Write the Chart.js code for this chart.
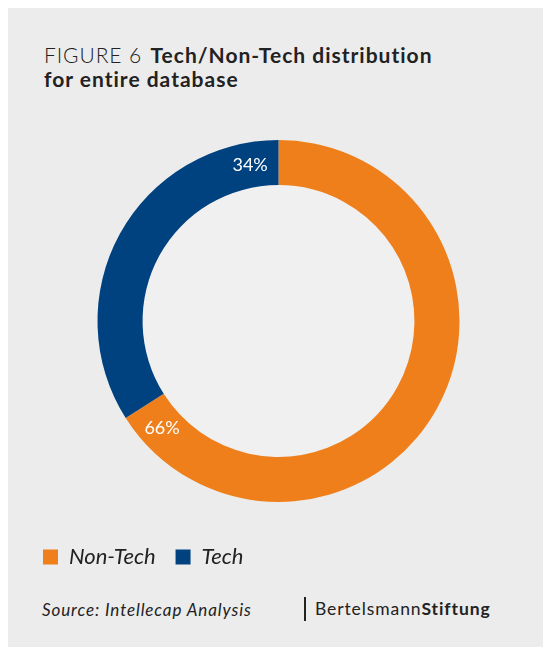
<!DOCTYPE html>
<html>
<head>
<meta charset="utf-8">
<script src="https://cdn.jsdelivr.net/npm/chart.js@4"></script>
<style>
  html, body { margin: 0; padding: 0; background: #fff; }
  body { width: 543px; height: 647px; position: relative; overflow: hidden; font-family: Lato, "Open Sans", sans-serif; }
  .panel { position: absolute; left: 8px; top: 8px; width: 535px; height: 639px; background: #ececec; }
  .title { position: absolute; left: 44px; top: 43px; font-size: 21px; line-height: 24px; color: #222; margin: 0; font-weight: 700; letter-spacing: 1px; }
  .title .fig { font-weight: 300; letter-spacing: 0.9px; margin-right: 3px; }
  .chart-box { position: absolute; left: 8px; top: 94px; width: 535px; height: 484px; }
  .source { position: absolute; left: 42px; top: 599px; font-size: 17px; font-style: italic; color: #222; letter-spacing: 0.9px; }
  .brand { position: absolute; left: 304px; top: 597px; height: 24px; border-left: 2px solid #222; padding-left: 9px; font-size: 17.5px; line-height: 23px; color: #222; letter-spacing: 0.9px; }
  .brand b { font-weight: 700; }
</style>
</head>
<body>
<div class="panel"></div>
<h1 class="title"><span class="fig">FIGURE 6</span> Tech/Non-Tech distribution<br>for entire database</h1>
<div class="chart-box"><canvas id="donut"></canvas></div>
<div class="source">Source: Intellecap Analysis</div>
<div class="brand">Bertelsmann<b>Stiftung</b></div>

<script>
const categories = ['Non-Tech', 'Tech'];
const shares = [66, 34];
const colors = ['#ef7f1a', '#00427f'];

// lighter disc inside the ring
const holeFill = {
  id: 'holeFill',
  beforeDatasetsDraw(chart) {
    const arc = chart.getDatasetMeta(0).data[0];
    if (!arc) return;
    const ctx = chart.ctx;
    ctx.save();
    ctx.fillStyle = '#f0f0f0';
    ctx.beginPath();
    ctx.arc(arc.x, arc.y, arc.innerRadius, 0, Math.PI * 2);
    ctx.fill();
    ctx.restore();
  }
};

// percentage written inside each segment, just before its end
const arcLabels = {
  id: 'arcLabels',
  afterDatasetsDraw(chart) {
    const ctx = chart.ctx;
    const meta = chart.getDatasetMeta(0);
    ctx.save();
    ctx.fillStyle = '#ffffff';
    ctx.font = '18px Lato';
    ctx.textAlign = 'center';
    ctx.textBaseline = 'middle';
    meta.data.forEach((arc, i) => {
      const a = arc.endAngle - 0.18;
      const r = (arc.innerRadius + arc.outerRadius) / 2;
      ctx.fillText(shares[i] + '%', arc.x + Math.cos(a) * r, arc.y + Math.sin(a) * r);
    });
    ctx.restore();
  }
};

new Chart(document.getElementById('donut'), {
  type: 'doughnut',
  data: {
    labels: categories,
    datasets: [{
      data: shares,
      backgroundColor: colors,
      borderWidth: 0,
      radius: 181,
      cutout: '75.1%'
    }]
  },
  options: {
    responsive: true,
    maintainAspectRatio: false,
    animation: false,
    layout: { padding: { left: 15, right: 9, top: 22, bottom: 0 } },
    plugins: {
      tooltip: { enabled: false },
      legend: {
        position: 'bottom',
        align: 'start',
        labels: {
          boxWidth: 15,
          boxHeight: 15,
          padding: 20,
          color: '#222',
          font: { family: 'Lato', size: 22, style: 'italic' }
        }
      }
    }
  },
  plugins: [holeFill, arcLabels]
});
</script>
</body>
</html>
